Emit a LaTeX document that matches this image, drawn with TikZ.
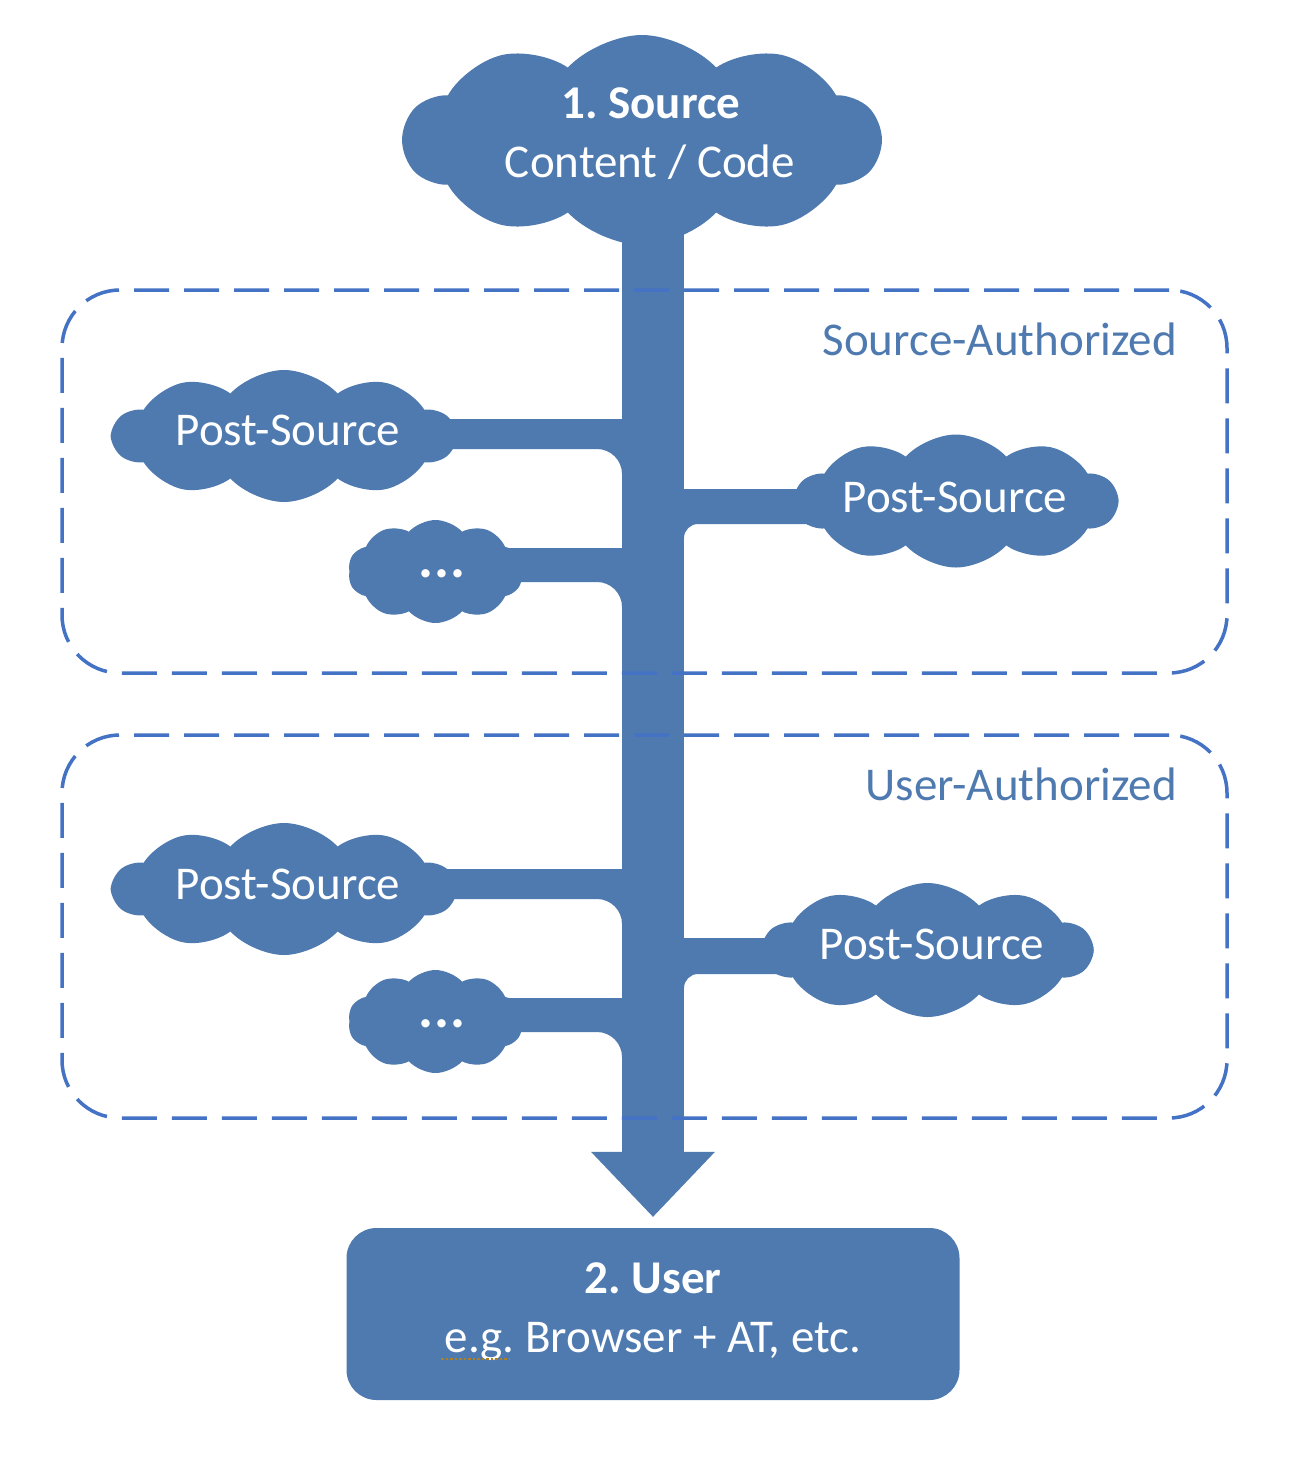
\documentclass[tikz,border=0pt]{standalone}
\usepackage{fontspec}
\setmainfont{Carlito}
\usetikzlibrary{shapes.symbols,calc}
\definecolor{flowc}{RGB}{78,122,176}
\definecolor{dashc}{RGB}{68,114,196}
\definecolor{spellc}{RGB}{176,128,32}
\pgfdeclarelayer{bg}
\pgfsetlayers{bg,main}
\frenchspacing
% left branch: cloud, top y, bottom y, fillet radius
\newcommand\lbranch[4]{%
  \fill[flowc] (#1.center |- 0,#2) -- (624,#2) -- (624,#3+#4) -- (622,#3+#4)
    .. controls (622,#3+0.448*#4) and (622-0.448*#4,#3) .. (622-#4,#3)
    -- (#1.center |- 0,#3) -- cycle;}
% right branch
\newcommand\rbranch[4]{%
  \fill[flowc] (#1.center |- 0,#2) -- (682,#2) -- (682,#3+#4) -- (684,#3+#4)
    .. controls (684,#3+0.448*#4) and (684+0.448*#4,#3) .. (684+#4,#3)
    -- (#1.center |- 0,#3) -- cycle;}
\newcommand\mydots{{\fontsize{56}{60}\selectfont\bfseries .\kern1.5pt.\kern1.5pt.}}
\begin{document}
\begin{tikzpicture}[x=1pt,y=-1pt,
  puff/.style={cloud, cloud puffs=10, cloud puff arc=95, cloud ignores aspect,
    fill=flowc, draw=none, inner sep=0pt},
  lbl/.style={font=\fontsize{47}{56}\selectfont, text=white, inner sep=0pt, anchor=base},
  zone/.style={draw=dashc, line width=3.5pt, dash pattern=on 35pt off 15pt,
    rounded corners=58pt, inner sep=0pt},
  zonelbl/.style={font=\fontsize{47}{56}\selectfont, text=flowc, inner sep=0pt, anchor=base east},
  userbox/.style={fill=flowc, draw=none, rounded corners=30pt, inner sep=0pt}]
\useasboundingbox (0,0) rectangle (1294,1468);

% clouds
\node[puff, minimum width=477pt, minimum height=210pt] (src) at (642,140) {};
\node[puff, minimum width=342pt, minimum height=132pt] (ps1) at (284,436) {};
\node[puff, minimum width=322pt, minimum height=133pt] (ps2) at (956,501) {};
\node[puff, minimum width=175pt, minimum height=103pt] (dots1) at (435.5,571.5) {};
\node[puff, minimum width=342pt, minimum height=132pt] (ps3) at (284,889) {};
\node[puff, minimum width=329pt, minimum height=134pt] (ps4) at (927.5,950) {};
\node[puff, minimum width=175pt, minimum height=103pt] (dots2) at (435.5,1021.5) {};

% user box
\node[userbox, minimum width=613pt, minimum height=172pt] (user) at (653,1314) {};

% texts
\node[lbl] (srct1) at (651,118) {\bfseries 1. Source};
\node[lbl] (srct2) at (650,177) {Content / Code};
\node[lbl] (ps1t) at (288,445) {Post-Source};
\node[lbl] (ps2t) at (955,512) {Post-Source};
\node[lbl] (d1t) at (442,577) {\mydots};
\node[lbl] (ps3t) at (288,899) {Post-Source};
\node[lbl] (ps4t) at (932,959) {Post-Source};
\node[lbl] (d2t) at (442,1027) {\mydots};
\node[lbl] (usert1) at (653,1293) {\bfseries 2. User};
\node[lbl] (usert2) at (653,1352) {e.g. Browser + AT, etc.};
\draw[spellc, line width=2.5pt, dash pattern=on 2.5pt off 2pt] (441,1359) -- (510,1359);

% zones
\node[zone, minimum width=1165pt, minimum height=383pt] (zone1) at (644.5,481.5) {};
\node[zone, minimum width=1165pt, minimum height=383pt] (zone2) at (644.5,926.5) {};
\node[zonelbl] (zone1l) at (1177,355) {Source-Authorized};
\node[zonelbl] (zone2l) at (1177,800) {User-Authorized};

% trunk and branches
\begin{pgfonlayer}{bg}
\fill[white] (0,0) rectangle (1294,1468);
\coordinate (ttop) at (src.center -| user.north);
\coordinate (tbase) at ($(user.north)+(0,-76)$);
\coordinate (ttip) at ($(user.north)+(0,-11)$);
\fill[flowc] ($(ttop)+(-31,0)$) rectangle ($(tbase)+(31,1)$);
\fill[flowc] ($(tbase)+(-62,0)$) -- ($(tbase)+(62,0)$) -- (ttip) -- cycle;
\lbranch{ps1}{419}{449}{25}
\rbranch{ps2}{489}{524}{14}
\lbranch{dots1}{548}{582}{25}
\lbranch{ps3}{869}{899}{25}
\rbranch{ps4}{938}{974}{14}
\lbranch{dots2}{998}{1032}{25}
\end{pgfonlayer}
\end{tikzpicture}
\end{document}
